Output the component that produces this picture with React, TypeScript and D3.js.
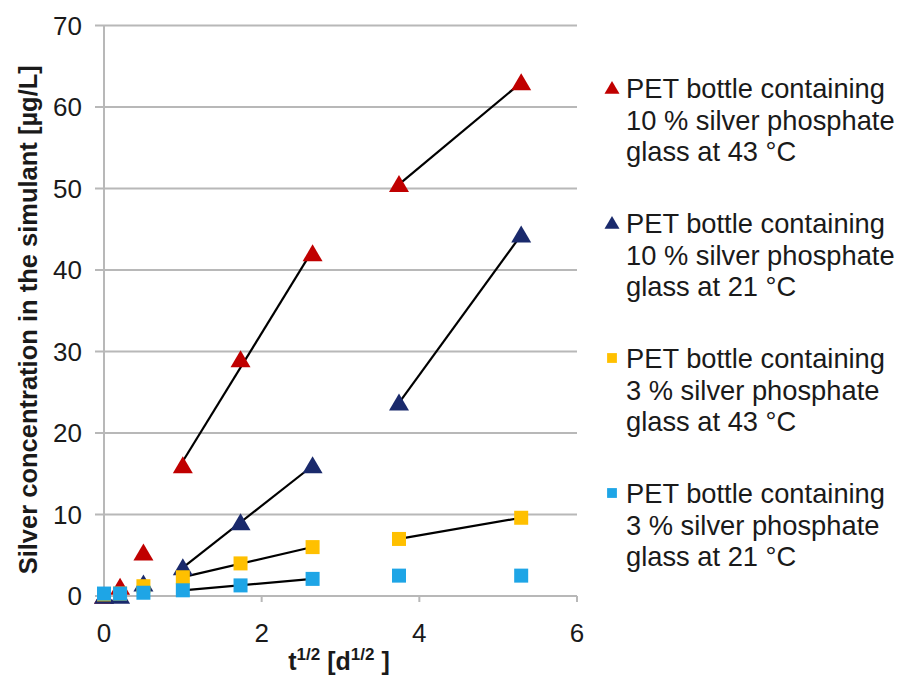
import React from "react";
import * as d3 from "d3";

const xValues = [0, 0.204, 0.5, 1, 1.732, 2.646, 3.742, 5.292];
const red43_10 = [0, 1.1, 5.3, 16, 29, 42, 50.5, 63];
const navy21_10 = [0, 0, 1.5, 3.5, 9, 16, 23.7, 44.3];
const yellow43_3 = [0.2, 0.3, 1.2, 2.3, 4, 6, 7, 9.6];
const blue21_3 = [0.3, 0.3, 0.4, 0.7, 1.3, 2.1, 2.5, 2.5];
const xTicks = [0, 2, 4, 6];
const yTicks = [0, 10, 20, 30, 40, 50, 60, 70];
const legendLines = [
  ["PET bottle containing", "10 % silver phosphate", "glass at 43 °C"],
  ["PET bottle containing", "10 % silver phosphate", "glass at 21 °C"],
  ["PET bottle containing", "3 % silver phosphate", "glass at 43 °C"],
  ["PET bottle containing", "3 % silver phosphate", "glass at 21 °C"],
];
// index groups fitted with a trend line for each series
const fitGroups = [
  [[3, 4, 5], [6, 7]],
  [[3, 4, 5], [6, 7]],
  [[3, 4, 5], [6, 7]],
  [[3, 4, 5]],
];

const series = [
  { values: red43_10, color: "#c00000", shape: "tri" },
  { values: navy21_10, color: "#1a2a6c", shape: "tri" },
  { values: yellow43_3, color: "#ffc000", shape: "sq" },
  { values: blue21_3, color: "#1ea5e6", shape: "sq" },
];

const FONT = "'Liberation Sans', Arial, sans-serif";

function fit(xs: number[], ys: number[]) {
  const mx = d3.mean(xs)!;
  const my = d3.mean(ys)!;
  let num = 0, den = 0;
  xs.forEach((x, i) => {
    num += (x - mx) * (ys[i] - my);
    den += (x - mx) * (x - mx);
  });
  const slope = num / den;
  return (x: number) => my + slope * (x - mx);
}

function Marker({ shape, color, cx, cy, s = 1 }: any) {
  if (shape === "tri") {
    const w = 10 * s, h = 17 * s;
    return (
      <path
        d={`M${cx},${cy - h * 0.55} L${cx + w},${cy + h * 0.45} L${cx - w},${cy + h * 0.45} Z`}
        fill={color}
      />
    );
  }
  const a = 7 * s;
  return <rect x={cx - a} y={cy - a} width={2 * a} height={2 * a} fill={color} />;
}

export default function App() {
  const W = 900, H = 677;
  const x = d3.scaleLinear().domain([0, 6]).range([104, 577]);
  const y = d3.scaleLinear().domain([0, 70]).range([596, 25.5]);

  return (
    <svg width={W} height={H} style={{ display: "block", position: "absolute", left: 0, top: 0 }} fontFamily={FONT}>
      <rect width={W} height={H} fill="#fff" />
      {yTicks.map((t) => (
        <line key={t} x1={95} x2={x(6)} y1={y(t)} y2={y(t)} stroke="#b8b8b8" strokeWidth={2} />
      ))}
      <line x1={x(0)} x2={x(0)} y1={y(70)} y2={y(0) + 6} stroke="#b8b8b8" strokeWidth={2} />
      {xTicks.map((t) => (
        <line key={t} x1={x(t)} x2={x(t)} y1={y(0)} y2={y(0) + 6} stroke="#b8b8b8" strokeWidth={2} />
      ))}
      {yTicks.map((t) => (
        <text key={t} x={82} y={y(t) + 9} textAnchor="end" fontSize={26} fill="#1a1a1a">{t}</text>
      ))}
      {xTicks.map((t) => (
        <text key={t} x={x(t)} y={642} textAnchor="middle" fontSize={26} fill="#1a1a1a">{t}</text>
      ))}
      <text x={339} y={670} textAnchor="middle" fontSize={25} fontWeight="bold" fill="#1a1a1a">
        t<tspan fontSize={17} dy={-10}>1/2</tspan>
        <tspan dy={10}> [d</tspan>
        <tspan fontSize={17} dy={-10}>1/2</tspan>
        <tspan dy={10}> ]</tspan>
      </text>
      <text
        transform={`translate(37,${y(35) + 9}) rotate(-90)`}
        textAnchor="middle"
        fontSize={25.5}
        fontWeight="bold"
        fill="#1a1a1a"
      >
        Silver concentration in the simulant [µg/L]
      </text>
      {series.map((s, si) =>
        fitGroups[si].map((g, gi) => {
          const xs = g.map((i) => xValues[i]);
          const ys = g.map((i) => s.values[i]);
          const f = fit(xs, ys);
          const x0 = xs[0], x1 = xs[xs.length - 1];
          return (
            <line key={`${si}-${gi}`} x1={x(x0)} y1={y(f(x0))} x2={x(x1)} y2={y(f(x1))} stroke="#000" strokeWidth={2.2} />
          );
        })
      )}
      {series.map((s, si) =>
        s.values.map((v, i) => (
          <Marker key={`${si}-${i}`} shape={s.shape} color={s.color} cx={x(xValues[i])} cy={y(v)} />
        ))
      )}
      {series.map((s, si) => {
        const base = 98 + si * 135;
        return (
          <g key={si}>
            <Marker shape={s.shape} color={s.color} cx={612} cy={base - 10} s={s.shape === "tri" ? 0.75 : 0.7} />
            {legendLines[si].map((l, li) => (
              <text key={li} x={626} y={base + li * 31.5} fontSize={27.3} fill="#1a1a1a">{l}</text>
            ))}
          </g>
        );
      })}
    </svg>
  );
}
